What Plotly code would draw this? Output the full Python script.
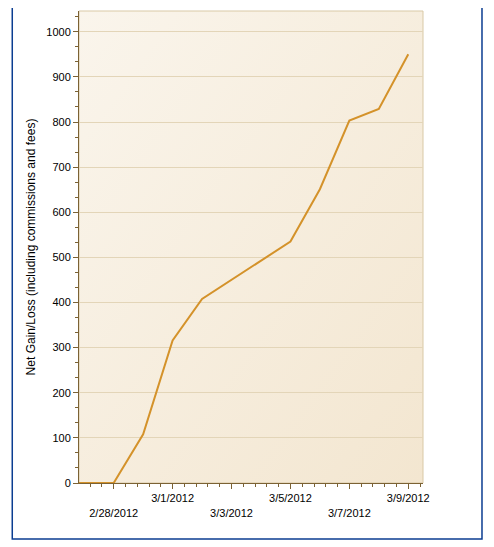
import base64
import plotly.graph_objects as go

# net gain/loss per trading day
dates = ["2012-02-24", "2012-02-27", "2012-02-28", "2012-02-29", "2012-03-01",
         "2012-03-02", "2012-03-05", "2012-03-06", "2012-03-07", "2012-03-08",
         "2012-03-09"]
net_gain = [0, 0, 0, 108, 316, 408, 535, 651, 803, 829, 950]

tick_dates = ["2012-02-28", "2012-03-01", "2012-03-03", "2012-03-05",
              "2012-03-07", "2012-03-09"]
tick_labels = ["2/28/2012", "3/1/2012", "3/3/2012", "3/5/2012",
               "3/7/2012", "3/9/2012"]
# every other label drops to a second row
tick_text = [("<br>" + t) if i % 2 == 0 else t for i, t in enumerate(tick_labels)]

axis_brown = "#7b6234"
font = dict(family="Liberation Sans, Arial, sans-serif", size=11, color="#000000")

# diagonal beige gradient for the plot area
svg = ('<svg xmlns="http://www.w3.org/2000/svg" width="100" height="100" '
       'preserveAspectRatio="none"><defs><linearGradient id="g" x1="0" y1="0" '
       'x2="1" y2="1"><stop offset="0" stop-color="#faf5ec"/>'
       '<stop offset="1" stop-color="#f3e6d0"/></linearGradient></defs>'
       '<rect width="100" height="100" fill="url(#g)"/></svg>')
bg_src = "data:image/svg+xml;base64," + base64.b64encode(svg.encode()).decode()

fig = go.Figure(go.Scatter(
    x=dates, y=net_gain, mode="lines",
    line=dict(color="#d4922a", width=2),
    hoverinfo="x+y",
))

# page body has an 8px margin, so the figure is a little smaller than the window
fig.update_layout(
    width=486, height=539,
    margin=dict(l=71, r=71, t=3, b=64),
    paper_bgcolor="#ffffff",
    plot_bgcolor="rgba(0,0,0,0)",
    font=font,
    showlegend=False,
    images=[dict(source=bg_src, xref="paper", yref="paper", x=0, y=1,
                 sizex=1, sizey=1, sizing="stretch", layer="below")],
    shapes=[
        # plot area border (top/right)
        dict(type="rect", xref="paper", yref="paper", x0=0, x1=1, y0=0, y1=1,
             line=dict(color="#d9c9a6", width=1), layer="below"),
        # outer blue frame
        dict(type="rect", xref="paper", yref="paper", x0=-0.194, x1=1.1715,
             y0=-0.1186, y1=1.04, line=dict(color="#0b3d91", width=1.5)),
    ],
)

fig.update_xaxes(
    type="date",
    range=["2012-02-26 19:45", "2012-03-09 12:00"],
    tickmode="array", tickvals=tick_dates, ticktext=tick_text,
    showgrid=False, zeroline=False,
    showline=True, linecolor=axis_brown, linewidth=1,
    ticks="outside", ticklen=5, tickcolor=axis_brown,
    minor=dict(ticks="outside", ticklen=3, tickcolor=axis_brown,
               tickmode="linear", tick0="2012-02-28", dtick=34560000,
               showgrid=False),
    tickfont=font,
)

fig.update_yaxes(
    range=[0, 1046],
    tickmode="linear", tick0=0, dtick=100,
    showgrid=True, gridcolor="#e3d5b8", gridwidth=1,
    zeroline=False,
    showline=True, linecolor=axis_brown, linewidth=1,
    ticks="outside", ticklen=5, tickcolor=axis_brown,
    minor=dict(ticks="outside", ticklen=3, tickcolor=axis_brown,
               tickmode="linear", tick0=0, dtick=100 / 3, showgrid=False),
    tickfont=font,
    title=dict(text="Net Gain/Loss (including commissions and fees)",
               font=dict(family="Liberation Sans, Arial, sans-serif", size=12),
               standoff=8),
)

fig.write_html("out.html")
